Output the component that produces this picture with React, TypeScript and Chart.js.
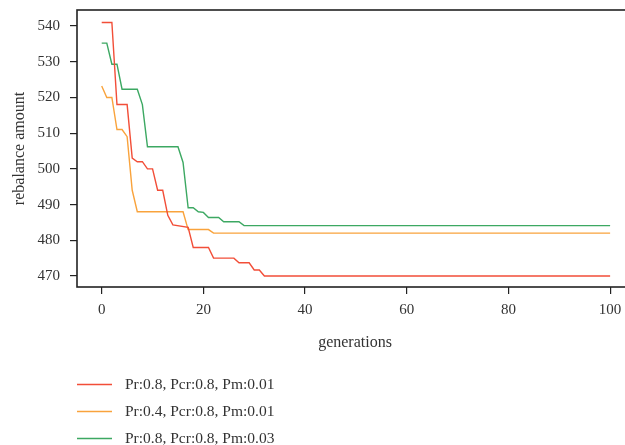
import React, { useEffect, useRef } from "react";
import { Chart, registerables } from "chart.js";

Chart.register(...registerables);

// ---- data ----
const xTicks = [0, 20, 40, 60, 80, 100];
const yTicks = [470, 480, 490, 500, 510, 520, 530, 540];

const seriesLabels = [
  "Pr:0.8, Pcr:0.8, Pm:0.01",
  "Pr:0.4, Pcr:0.8, Pm:0.01",
  "Pr:0.8, Pcr:0.8, Pm:0.03",
];

// generations at which the value changes (lines run straight between them)
const redGen = [0, 2, 3, 5, 6, 7, 8, 9, 10, 11, 12, 13, 14, 17, 18, 21, 22, 26, 27, 29, 30, 31, 32, 100];
const redVal = [541, 541, 518, 518, 503, 502, 502, 500, 500, 494, 494, 487, 484.3, 483.6, 478, 478, 475, 475, 473.7, 473.7, 471.7, 471.7, 470, 470];

const orangeGen = [0, 1, 2, 3, 4, 5, 6, 7, 16, 17, 21, 22, 100];
const orangeVal = [523.2, 520, 520, 511, 511, 509, 494, 488, 488, 483, 483, 482, 482];

const greenGen = [0, 1, 2, 3, 4, 7, 8, 9, 15, 16, 17, 18, 19, 20, 21, 23, 24, 27, 28, 100];
const greenVal = [535.2, 535.2, 529.3, 529.3, 522.3, 522.3, 518, 506.2, 506.2, 501.8, 489.1, 489.1, 488, 487.8, 486.4, 486.4, 485.2, 485.2, 484.1, 484.1];

const seriesColors = ["#F24E38", "#F9A33C", "#3CA862"];

// ---- styling ----
const FONT = "'Liberation Serif', 'Times New Roman', serif";
const TEXT = "#333333";
const AXIS = "#222222";

const toPoints = (gx: number[], vy: number[]) => gx.map((g, i) => ({ x: g, y: vy[i] }));

const framePlugin = {
  id: "frame",
  afterDraw(chart: any) {
    const { ctx, chartArea: a } = chart;
    ctx.save();
    ctx.strokeStyle = AXIS;
    ctx.lineWidth = 1.6;
    ctx.strokeRect(a.left, a.top, a.right - a.left, a.bottom - a.top);
    ctx.restore();
  },
};

const listLegendPlugin = {
  id: "listLegend",
  afterDraw(chart: any) {
    const ctx = chart.ctx;
    ctx.save();
    chart.data.datasets.forEach((ds: any, i: number) => {
      const y = 384.5 + i * 27;
      ctx.strokeStyle = ds.borderColor;
      ctx.lineWidth = 1.4;
      ctx.beginPath();
      ctx.moveTo(77, y);
      ctx.lineTo(112, y);
      ctx.stroke();
      ctx.fillStyle = TEXT;
      ctx.font = `15.5px ${FONT}`;
      ctx.textAlign = "left";
      ctx.textBaseline = "middle";
      ctx.fillText(ds.label, 125, y);
    });
    ctx.restore();
  },
};

export default function App() {
  const ref = useRef<HTMLCanvasElement>(null);

  useEffect(() => {
    if (!ref.current) return;
    const series = [
      toPoints(redGen, redVal),
      toPoints(orangeGen, orangeVal),
      toPoints(greenGen, greenVal),
    ];
    const chart = new Chart(ref.current, {
      type: "line",
      data: {
        datasets: series.map((pts, i) => ({
          label: seriesLabels[i],
          data: pts,
          borderColor: seriesColors[i],
          backgroundColor: seriesColors[i],
          borderWidth: 1.4,
          pointRadius: 0,
          tension: 0,
          fill: false,
        })),
      },
      options: {
        animation: false,
        responsive: false,
        layout: { padding: { top: 10, left: 0, right: 7, bottom: 0 } },
        plugins: {
          legend: { display: false },
          tooltip: { enabled: false },
        },
        scales: {
          x: {
            type: "linear",
            min: -4.86,
            max: 104.5,
            afterBuildTicks: (s: any) => {
              s.ticks = xTicks.map((v) => ({ value: v }));
            },
            afterFit: (s: any) => {
              s.height = 158;
              s.paddingLeft = 0;
              s.paddingRight = 0;
            },
            ticks: {
              font: { family: FONT, size: 15 },
              color: TEXT,
              padding: 7,
              maxRotation: 0,
              autoSkip: false,
            },
            grid: {
              drawOnChartArea: false,
              drawTicks: true,
              tickLength: 7,
              color: AXIS,
              lineWidth: 1.2,
            },
            border: { display: false },
            title: {
              display: true,
              text: "generations",
              font: { family: FONT, size: 16 },
              color: TEXT,
              padding: { top: 0, bottom: 93 },
            },
          },
          y: {
            type: "linear",
            min: 466.92,
            max: 544.48,
            afterBuildTicks: (s: any) => {
              s.ticks = yTicks.map((v) => ({ value: v }));
            },
            afterFit: (s: any) => {
              s.width = 77;
              s.paddingTop = 0;
              s.paddingBottom = 0;
            },
            ticks: {
              font: { family: FONT, size: 15 },
              color: TEXT,
              padding: 10,
            },
            grid: {
              drawOnChartArea: false,
              drawTicks: true,
              tickLength: 7,
              color: AXIS,
              lineWidth: 1.2,
            },
            border: { display: false },
            title: {
              display: true,
              text: "rebalance amount",
              font: { family: FONT, size: 16 },
              color: TEXT,
              padding: { top: 10, bottom: 0 },
            },
          },
        },
      },
      plugins: [framePlugin, listLegendPlugin],
    });
    return () => chart.destroy();
  }, []);

  return (
    <div
      style={{
        position: "fixed",
        left: 0,
        top: 0,
        width: 625,
        height: 445,
        overflow: "hidden",
        background: "#ffffff",
      }}
    >
      <canvas ref={ref} width={640} height={445} style={{ display: "block" }} />
    </div>
  );
}
